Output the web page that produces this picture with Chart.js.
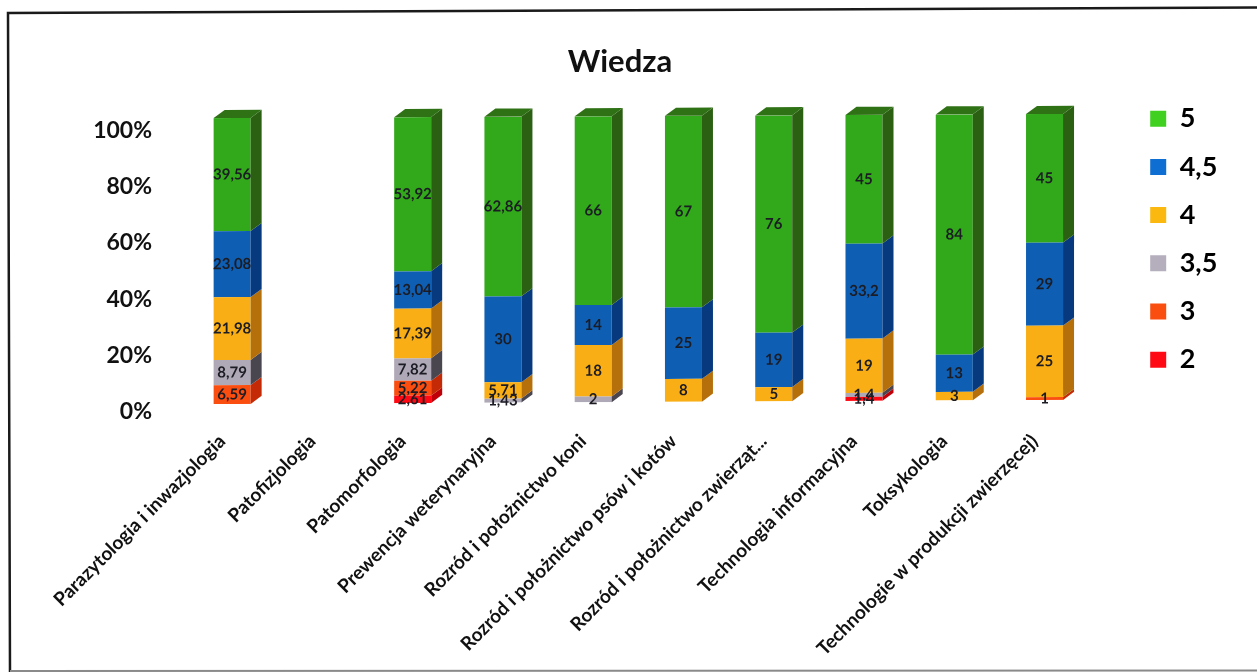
<!DOCTYPE html>
<html><head><meta charset="utf-8">
<script src="https://cdn.jsdelivr.net/npm/chart.js@4"></script>
<style>html,body{margin:0;padding:0;background:#fff}#w{width:1257px;height:672px}</style>
</head><body><div id="w"><canvas id="c" width="1257" height="672"></canvas></div>
<script>
const categories = ["Parazytologia i inwazjologia","Patofizjologia","Patomorfologia","Prewencja weterynaryjna","Rozród i położnictwo koni","Rozród i położnictwo psów i kotów","Rozród i położnictwo zwierząt...","Technologia informacyjna","Toksykologia","Technologie w produkcji zwierzęcej)"];
const grade2  = [null,null,2.61,null,null,null,null,1.4,null,null];
const grade3  = [6.59,null,5.22,null,null,null,null,null,null,1];
const grade35 = [8.79,null,7.82,1.43,2,null,null,1.4,null,null];
const grade4  = [21.98,null,17.39,5.71,18,8,5,19,3,25];
const grade45 = [23.08,null,13.04,30,14,25,19,33.2,13,29];
const grade5  = [39.56,null,53.92,62.86,66,67,76,45,84,45];
const yTicks = [0,20,40,60,80,100];
const FONT = 'Lato, "Open Sans", sans-serif';
const series = [
 {label:"2",data:grade2,backgroundColor:"#FF0A14",side:"#C00008",top:"#D80010",key:"#FF0A14"},
 {label:"3",data:grade3,backgroundColor:"#FA4E10",side:"#C42A06",top:"#D03A08",key:"#FA4E10"},
 {label:"3,5",data:grade35,backgroundColor:"#AFA8B6",side:"#4A4650",top:"#5A5560",key:"#B5AEBC"},
 {label:"4",data:grade4,backgroundColor:"#F8AE14",side:"#B5700C",top:"#C4800E",key:"#FBB80E"},
 {label:"4,5",data:grade45,backgroundColor:"#0E5FB4",side:"#07397F",top:"#084590",key:"#0E6ED2"},
 {label:"5",data:grade5,backgroundColor:"#32A91A",side:"#2B5F12",top:"#2F7216",key:"#3FD020"}
];
const DX=11, DY=8;
const depth3d = {
 id:'depth3d',
 beforeDatasetsDraw(chart){
  const c=chart.ctx, a=chart.chartArea;
  const k=286/(a.bottom-a.top), b=-4/813;
  c.save();
  c.transform(1,b,0,k,0,404-a.bottom*k-232*b);
 },
 afterDatasetsDraw(chart){
  const c=chart.ctx;
  const n=categories.length, metas=chart.data.datasets.map((d,i)=>chart.getDatasetMeta(i));
  for(let j=0;j<n;j++){
   let last=null;
   metas.forEach((m,i)=>{
    if(chart.data.datasets[i].data[j]==null) return;
    const e=m.data[j], r=e.x+e.width/2, t=e.y, bt=e.base, d=chart.data.datasets[i];
    c.fillStyle=d.side;
    c.beginPath();c.moveTo(r,t);c.lineTo(r+DX,t-DY);c.lineTo(r+DX,bt-DY);c.lineTo(r,bt);c.closePath();c.fill();
    last={e,d};
   });
   if(last){
    const e=last.e,l=e.x-e.width/2,r=e.x+e.width/2,t=e.y;
    c.fillStyle=last.d.top;
    c.beginPath();c.moveTo(l,t);c.lineTo(l+DX,t-DY);c.lineTo(r+DX,t-DY);c.lineTo(r,t);c.closePath();c.fill();
   }
  }
  c.font='bold 15px '+FONT;c.textAlign='center';c.textBaseline='middle';c.fillStyle='#1c1c24';
  metas.forEach((m,i)=>{
   chart.data.datasets[i].data.forEach((v,j)=>{
    if(v==null) return;
    const e=m.data[j];
    c.fillText(String(v).replace('.',','),e.x,(e.y+e.base)/2);
   });
  });
  c.restore();
 }
};
const frame = {
 id:'frame',
 afterLayout(chart){
  const l=chart.legend, h=l.bottom-l.top, w=l.right-l.left;
  l.left=1129;l.right=1129+w;l.top=84;l.bottom=84+h;
  const t=chart.titleBlock; t.left+=26;t.right+=26;
 },
 beforeDraw(chart){
  const c=chart.ctx;
  c.save();c.strokeStyle='#1a1a1a';c.lineWidth=2.5;
  c.beginPath();c.moveTo(1257,7.5);c.lineTo(8,13);c.lineTo(10,672);c.stroke();
  c.strokeStyle='#8a8a8a';c.lineWidth=2;
  c.beginPath();c.moveTo(10,671);c.lineTo(1257,670.5);c.stroke();
  c.restore();
 }
};
new Chart(document.getElementById('c'),{
 type:'bar',
 data:{labels:categories,datasets:series.map(s=>({...s,barPercentage:0.41,categoryPercentage:1,borderWidth:0}))},
 plugins:[frame,depth3d],
 options:{
  responsive:false,animation:false,
  layout:{padding:{left:0,right:69,top:0,bottom:0}},
  scales:{
   x:{stacked:true,grid:{display:false},border:{display:false},
      afterFit(s){s.height=260},
      ticks:{autoSkip:false,minRotation:45,maxRotation:45,padding:10,labelOffset:-10,color:'#111',font:{family:FONT,weight:'bold',size:19}}},
   y:{stacked:true,min:0,max:100,afterBuildTicks(s){s.ticks=yTicks.map(v=>({value:v}))},
      afterFit(s){s.width=187},
      grid:{display:false},border:{display:false},
      ticks:{padding:27,color:'#111',callback:v=>v+'%',font:{family:FONT,weight:'bold',size:23}}}
  },
  plugins:{
   title:{display:true,text:'Wiedza',color:'#111',font:{family:FONT,weight:'bold',size:31},padding:{top:43,bottom:50}},
   legend:{position:'right',reverse:true,align:'start',
     labels:{color:'#111',boxWidth:16,boxHeight:16,padding:21.2,
       font:{family:FONT,weight:'bold',size:27},
       generateLabels(ch){return ch.data.datasets.map((d,i)=>({text:d.label,fillStyle:d.key,strokeStyle:d.key,lineWidth:0,datasetIndex:i,hidden:false}))}}},
   tooltip:{enabled:false}
  }
 }
});
</script></body></html>
